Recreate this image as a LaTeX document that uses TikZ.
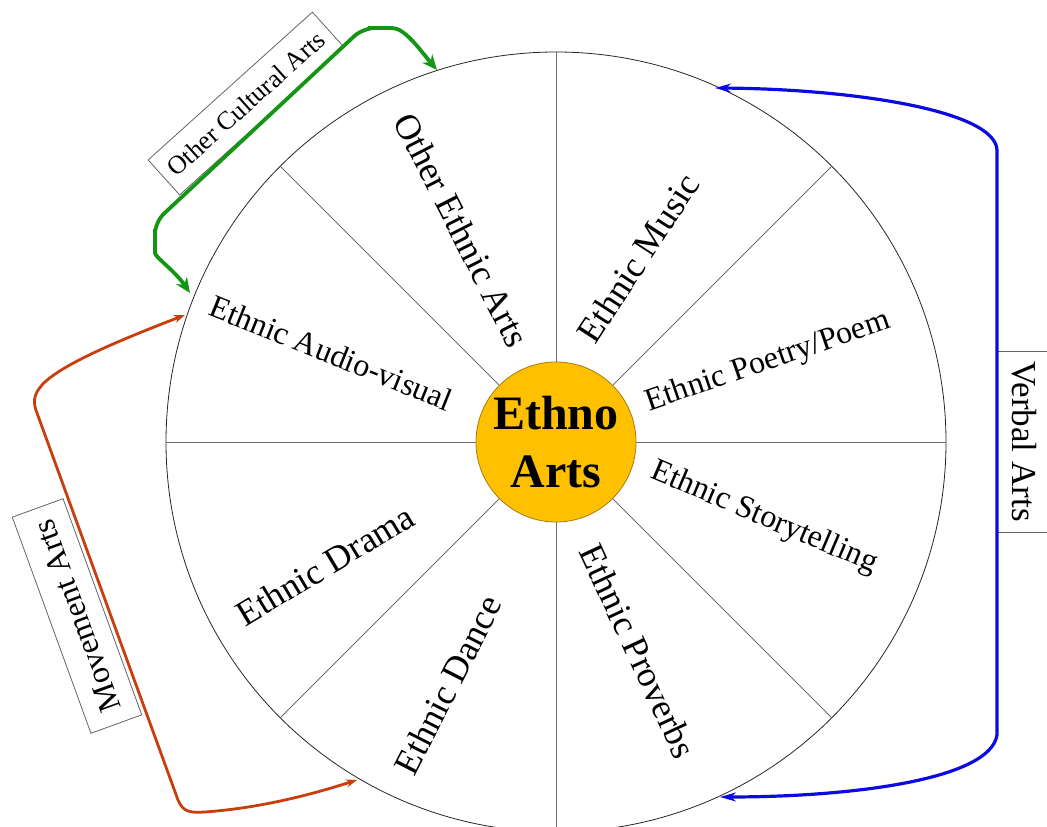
\documentclass[tikz,border=0pt]{standalone}
\usepackage{fontspec}
\setmainfont{Liberation Serif}
\usetikzlibrary{arrows.meta}
\definecolor{hubfill}{HTML}{FFC000}
\definecolor{hubline}{HTML}{A87C10}
\definecolor{grn}{RGB}{20,150,20}
\definecolor{blu}{RGB}{10,10,225}
\definecolor{rd}{RGB}{200,62,12}
\definecolor{spokegray}{RGB}{110,110,110}
\definecolor{boxgray}{RGB}{100,100,100}
\begin{document}
\begin{tikzpicture}[x=1pt,y=1pt,
  wheel/.style={circle,draw=black!85,line width=0.8pt,minimum size=780pt,inner sep=0pt},
  hub/.style={circle,fill=hubfill,draw=hubline,line width=0.8pt,minimum size=160pt,inner sep=0pt},
  spokeline/.style={draw=spokegray,line width=0.8pt},
  biglbl/.style={inner sep=0pt,font=\fontsize{36}{40}\selectfont},
  smalllbl/.style={inner sep=0pt,font=\fontsize{32}{36}\selectfont},
  groupbox/.style={draw=boxgray,line width=0.8pt,inner sep=0pt},
  greenconn/.style={draw=grn,line width=3.8pt,rounded corners=12pt,{Stealth[length=15pt,width=13pt]}-{Stealth[length=15pt,width=13pt]}},
  blueconn/.style={draw=blu,line width=3.2pt,{Stealth[length=16pt,width=9pt]}-{Stealth[length=16pt,width=9pt]}},
  redconn/.style={draw=rd,line width=2.8pt,{Stealth[length=11pt,width=8pt]}-{Stealth[length=11pt,width=8pt]}}
]
\useasboundingbox (0,0) rectangle (1047,827);
\clip (0,0) rectangle (1047,827);

% wheel and hub
\node[wheel] (wheel) at (556,385) {};
\foreach \a in {0,45,...,315}
  \draw[spokeline] (556,385) ++(\a:80) coordinate (s\a) -- (wheel.\a);
\node[hub] (hub) at (556,385) {};
\node[inner sep=0pt,align=center,font=\bfseries\fontsize{48}{58}\selectfont] (ethno) at (hub.center) {Ethno\\Arts};

% sector labels
\node[biglbl,rotate=-63] (l1) at (462,597) {Other Ethnic Arts};
\node[biglbl,rotate=57]  (l2) at (638,569) {Ethnic Music};
\node[smalllbl,rotate=19] (l3) at (768,465) {Ethnic Poetry/Poem};
\node[smalllbl,rotate=-23] (l4) at (764,309) {Ethnic Storytelling};
\node[biglbl,rotate=-65] (l5) at (638,176) {Ethnic Proverbs};
\node[biglbl,rotate=63]  (l6) at (448,142) {Ethnic Dance};
\node[biglbl,rotate=31]  (l7) at (325,262) {Ethnic Drama};
\node[smalllbl,rotate=-22] (l8) at (331,474) {Ethnic Audio-visual};

% group boxes
\node[groupbox,rotate=42,minimum width=221pt,minimum height=47pt,font=\fontsize{26}{30}\selectfont] (oca) at (246,723.5) {Other Cultural Arts};
\node[groupbox,rotate=110,minimum width=230pt,minimum height=54pt,font=\fontsize{32}{36}\selectfont] (mva) at (77,211) {Movement Arts};
\node[groupbox,rotate=-90,minimum width=181pt,minimum height=54pt,font=\fontsize{35}{40}\selectfont] (vba) at (1024,385.5) {Verbal Arts};

% connector end points
\coordinate (gL) at (190,534);
\coordinate (gR) at (437,757);
\coordinate (bT) at (715,739);
\coordinate (bB) at (720,30);
\coordinate (rT) at (185,512);
\coordinate (rB) at (357,47);

% connectors
\draw[greenconn] (gL) .. controls (175,556) and (155,570) .. (155,586) -- (155,605) -- (363,799) -- (380,799) .. controls (405,799) and (420,777) .. (gR);
\draw[blueconn] (bT) .. controls (850,738) and (995,717) .. (997,677) -- (997,92) .. controls (990,47) and (850,30) .. (bB);
\draw[redconn] (rT) .. controls (120,487) and (60,462) .. (42,442) .. controls (33,432) and (33,424) .. (37,414) -- (178,27) .. controls (183,15) and (190,14) .. (205,15) .. controls (260,19) and (310,32) .. (rB);
\end{tikzpicture}
\end{document}
